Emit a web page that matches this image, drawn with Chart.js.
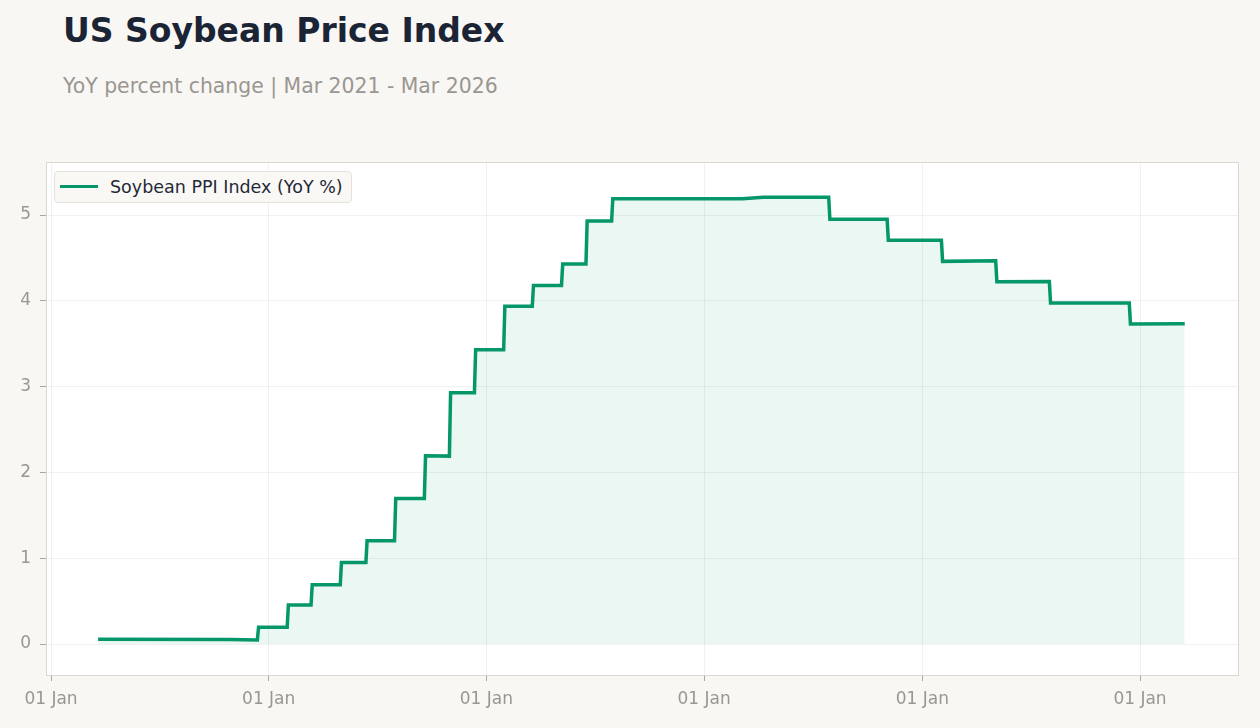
<!DOCTYPE html>
<html>
<head>
<meta charset="utf-8">
<script src="https://cdn.jsdelivr.net/npm/chart.js@4.4.1/dist/chart.umd.min.js"></script>
<style>
  html, body { margin: 0; padding: 0; background: #f8f7f4; }
  body { width: 1260px; height: 728px; position: relative; overflow: hidden; font-family: "DejaVu Sans", sans-serif; }
  #title { position: absolute; left: 63px; top: 11px; font-size: 33px; font-weight: bold; color: #1b2434; white-space: nowrap; }
  #subtitle { position: absolute; left: 63px; top: 74px; font-size: 20.4px; color: #9a9691; white-space: nowrap; }
  #c { position: absolute; left: 0; top: 0; }
  #legend { position: absolute; left: 54px; top: 171px; width: 298px; height: 32px; box-sizing: border-box;
            background: #f9f8f5; border: 1px solid #e6e2db; border-radius: 4px; }
  #legend .swatch { position: absolute; left: 5px; top: 13px; width: 38px; height: 3px; background: #059669; }
  #legend .label { position: absolute; left: 55px; top: 5px; font-size: 17.5px; color: #1f2937; white-space: nowrap; }
</style>
</head>
<body>
<div id="title">US Soybean Price Index</div>
<div id="subtitle">YoY percent change | Mar 2021 - Mar 2026</div>
<canvas id="c" width="1260" height="728"></canvas>
<div id="legend"><div class="swatch"></div><div class="label" id="legendLabel"></div></div>
<script>
// ---- data ----
const seriesLabel = "Soybean PPI Index (YoY %)";
const dates = [
  "2021-03-21", "2021-10-28", "2021-12-13",
  "2021-12-15", "2022-02-01",
  "2022-02-03", "2022-03-13",
  "2022-03-15", "2022-05-01",
  "2022-05-03", "2022-06-13",
  "2022-06-15", "2022-07-31",
  "2022-08-02", "2022-09-19",
  "2022-09-21", "2022-10-31",
  "2022-11-02", "2022-12-12",
  "2022-12-14", "2023-01-30",
  "2023-02-01", "2023-03-19",
  "2023-03-21", "2023-05-07",
  "2023-05-09", "2023-06-17",
  "2023-06-19", "2023-07-30",
  "2023-08-01", "2024-03-05", "2024-04-10", "2024-07-28",
  "2024-07-30", "2024-11-03",
  "2024-11-05", "2025-02-02",
  "2025-02-04", "2025-05-04",
  "2025-05-06", "2025-08-02",
  "2025-08-04", "2025-12-14",
  "2025-12-16", "2026-03-17"
];
const values = [
  0.055, 0.053, 0.047,
  0.195, 0.195,
  0.455, 0.455,
  0.69, 0.69,
  0.95, 0.95,
  1.205, 1.205,
  1.696, 1.696,
  2.195, 2.19,
  2.93, 2.93,
  3.43, 3.43,
  3.936, 3.936,
  4.18, 4.18,
  4.43, 4.43,
  4.93, 4.93,
  5.19, 5.19, 5.208, 5.208,
  4.95, 4.95,
  4.705, 4.705,
  4.46, 4.468,
  4.223, 4.226,
  3.974, 3.976,
  3.73, 3.732
];
const yTicks = [0, 1, 2, 3, 4, 5];
const xTickYears = [2021, 2022, 2023, 2024, 2025, 2026];
const xTickLabel = "01 Jan";

// ---- helpers ----
const toTs = s => { const [y, m, d] = s.split("-").map(Number); return Date.UTC(y, m - 1, d); };
const DAY = 86400000;
const points = dates.map((d, i) => ({ x: toTs(d), y: values[i] }));
document.getElementById("legendLabel").textContent = seriesLabel;

const areaPlugin = {
  id: "areaBox",
  beforeDraw(chart) {
    const a = chart.chartArea, ctx = chart.ctx;
    ctx.save();
    ctx.fillStyle = "#ffffff";
    ctx.fillRect(a.left, a.top, a.right - a.left, a.bottom - a.top);
    ctx.restore();
  },
  afterDraw(chart) {
    const a = chart.chartArea, ctx = chart.ctx;
    ctx.save();
    ctx.strokeStyle = "#dcd8d1";
    ctx.lineWidth = 1;
    ctx.strokeRect(a.left + 0.5, a.top + 0.5, a.right - a.left - 1, a.bottom - a.top);
    ctx.restore();
  }
};

Chart.defaults.font.family = "'DejaVu Sans', sans-serif";

new Chart(document.getElementById("c"), {
  type: "line",
  data: {
    datasets: [{
      label: seriesLabel,
      data: points,
      borderColor: "#059669",
      backgroundColor: "rgba(5,150,105,0.08)",
      borderWidth: 3.5,
      pointRadius: 0,
      pointHoverRadius: 0,
      tension: 0,
      fill: "origin"
    }]
  },
  options: {
    responsive: false,
    animation: false,
    events: [],
    layout: { padding: { top: 162, right: 21, left: 0, bottom: 0 } },
    plugins: { legend: { display: false }, tooltip: { enabled: false }, title: { display: false } },
    scales: {
      x: {
        type: "linear",
        min: toTs("2021-01-01") - 8.4 * DAY,
        max: toTs("2026-01-01") + 166 * DAY,
        afterFit(scale) { scale.height = 53; },
        afterBuildTicks(scale) { scale.ticks = xTickYears.map(y => ({ value: Date.UTC(y, 0, 1) })); },
        ticks: { callback: () => xTickLabel, color: "#9a9691", font: { size: 17 }, padding: 8, maxRotation: 0, autoSkip: false },
        grid: { color: "rgba(0,0,0,0.055)", tickColor: "#a9a5a0", tickLength: 6, drawOnChartArea: true },
        border: { display: false }
      },
      y: {
        min: -0.361,
        max: 5.618,
        afterFit(scale) { scale.width = 46; },
        afterBuildTicks(scale) { scale.ticks = yTicks.map(v => ({ value: v })); },
        ticks: { callback: v => String(v), color: "#9a9691", font: { size: 17 }, padding: 9 },
        grid: { color: "rgba(0,0,0,0.055)", tickColor: "#a9a5a0", tickLength: 6 },
        border: { display: false }
      }
    }
  },
  plugins: [areaPlugin]
});
</script>
</body>
</html>
